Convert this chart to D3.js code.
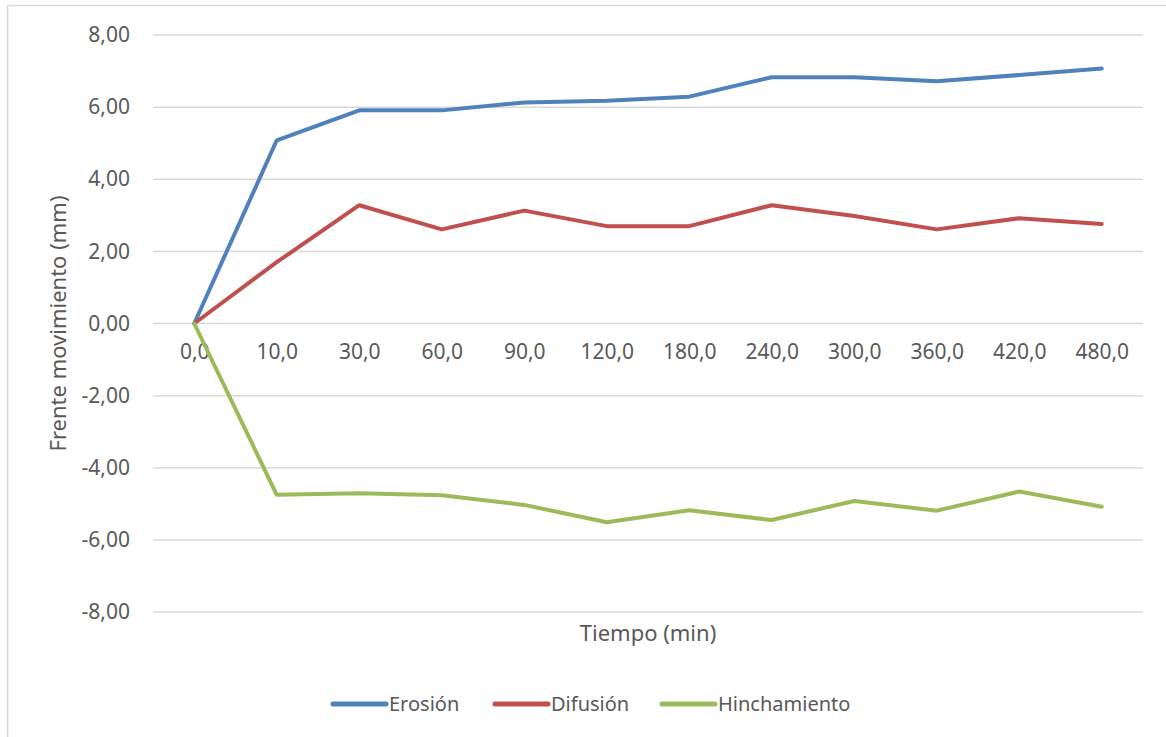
<!DOCTYPE html>
<html>
<head>
<meta charset="utf-8">
<script src="https://cdn.jsdelivr.net/npm/d3@7"></script>
<style>
  body { margin: 0; background: #fff; }
  text { font-family: "Noto Sans", "Open Sans", sans-serif; fill: #595959; }
</style>
</head>
<body>
<div id="chart-area"></div>
<script>
// Data
const tiempos = ["0,0", "10,0", "30,0", "60,0", "90,0", "120,0", "180,0", "240,0", "300,0", "360,0", "420,0", "480,0"];
const erosion = [0, 5.08, 5.91, 5.91, 6.13, 6.18, 6.29, 6.83, 6.83, 6.72, 6.89, 7.07];
const difusion = [0, 1.70, 3.28, 2.61, 3.13, 2.70, 2.70, 3.28, 2.98, 2.61, 2.92, 2.76];
const hinchamiento = [0, -4.75, -4.71, -4.76, -5.03, -5.51, -5.18, -5.45, -4.92, -5.19, -4.66, -5.08];
const yTicks = [-8, -6, -4, -2, 0, 2, 4, 6, 8];

const seriesNames = ["Erosión", "Difusión", "Hinchamiento"];
const seriesColors = ["#4F81BD", "#C0504D", "#9BBB59"];
const series = [erosion, difusion, hinchamiento].map((values, i) => ({
  name: seriesNames[i], color: seriesColors[i], values: values
}));

// Dimensions
const W = 1166, H = 737;
const plot = { left: 153, right: 1143, top: 35, bottom: 612 };

const svg = d3.select("#chart-area")
  .append("svg")
    .attr("width", W)
    .attr("height", H);

// chart border (runs off the right/bottom edge like the screenshot)
svg.append("rect")
  .attr("x", 7.5).attr("y", 5.5)
  .attr("width", W + 20).attr("height", H + 20)
  .attr("fill", "none")
  .attr("stroke", "#D9D9D9")
  .attr("stroke-width", 1.5);

// scales
const x = d3.scalePoint()
  .domain(tiempos)
  .range([plot.left, plot.right])
  .padding(0.5);

const y = d3.scaleLinear()
  .domain([-8, 8])
  .range([plot.bottom, plot.top]);

// spanish number format, plain hyphen for negatives
const es = d3.formatLocale({ decimal: ",", thousands: ".", grouping: [3], currency: ["", "€"], minus: "-" });
const fmt = es.format(".2f");

// gridlines
svg.append("g")
  .selectAll("line")
  .data(yTicks)
  .join("line")
    .attr("x1", plot.left)
    .attr("x2", plot.right)
    .attr("y1", d => y(d))
    .attr("y2", d => y(d))
    .attr("stroke", "#D9D9D9")
    .attr("stroke-width", 1.5);

// y axis
const yAxis = svg.append("g")
  .attr("transform", `translate(${plot.left},0)`)
  .call(d3.axisLeft(y).tickValues(yTicks).tickFormat(fmt).tickSize(0).tickPadding(23));
yAxis.select(".domain").remove();
yAxis.selectAll("text")
  .attr("font-size", "21px")
  .style("font-family", "'Noto Sans', sans-serif")
  .style("fill", "#595959");

// x axis labels on the zero line
const xAxis = svg.append("g")
  .attr("transform", `translate(0,${y(0)})`)
  .call(d3.axisBottom(x).tickSize(0).tickPadding(21));
xAxis.select(".domain").remove();
xAxis.selectAll("text")
  .attr("font-size", "21px")
  .style("font-family", "'Noto Sans', sans-serif")
  .style("fill", "#595959");

// lines
const line = d3.line()
  .x((d, i) => x(tiempos[i]))
  .y(d => y(d));

svg.append("g")
  .selectAll("path")
  .data(series)
  .join("path")
    .attr("d", d => line(d.values))
    .attr("fill", "none")
    .attr("stroke", d => d.color)
    .attr("stroke-width", 4)
    .attr("stroke-linejoin", "round")
    .attr("stroke-linecap", "round");

// axis titles
svg.append("text")
  .attr("x", (plot.left + plot.right) / 2)
  .attr("y", 641)
  .attr("text-anchor", "middle")
  .attr("font-size", "22px")
  .text("Tiempo (min)");

svg.append("text")
  .attr("transform", `translate(66,${(plot.top + plot.bottom) / 2}) rotate(-90)`)
  .attr("text-anchor", "middle")
  .attr("font-size", "22px")
  .text("Frente movimiento (mm)");

// legend
const legendX = [333, 495, 662];
const legend = svg.append("g");
series.forEach((s, i) => {
  const row = legend.append("g")
    .attr("transform", `translate(${legendX[i]},704)`);
  row.append("line")
    .attr("x1", 0).attr("x2", 53)
    .attr("stroke", s.color)
    .attr("stroke-width", 5)
    .attr("stroke-linecap", "round");
  row.append("text")
    .attr("x", 56)
    .attr("y", 7)
    .attr("font-size", "20px")
    .text(s.name);
});
</script>
</body>
</html>
